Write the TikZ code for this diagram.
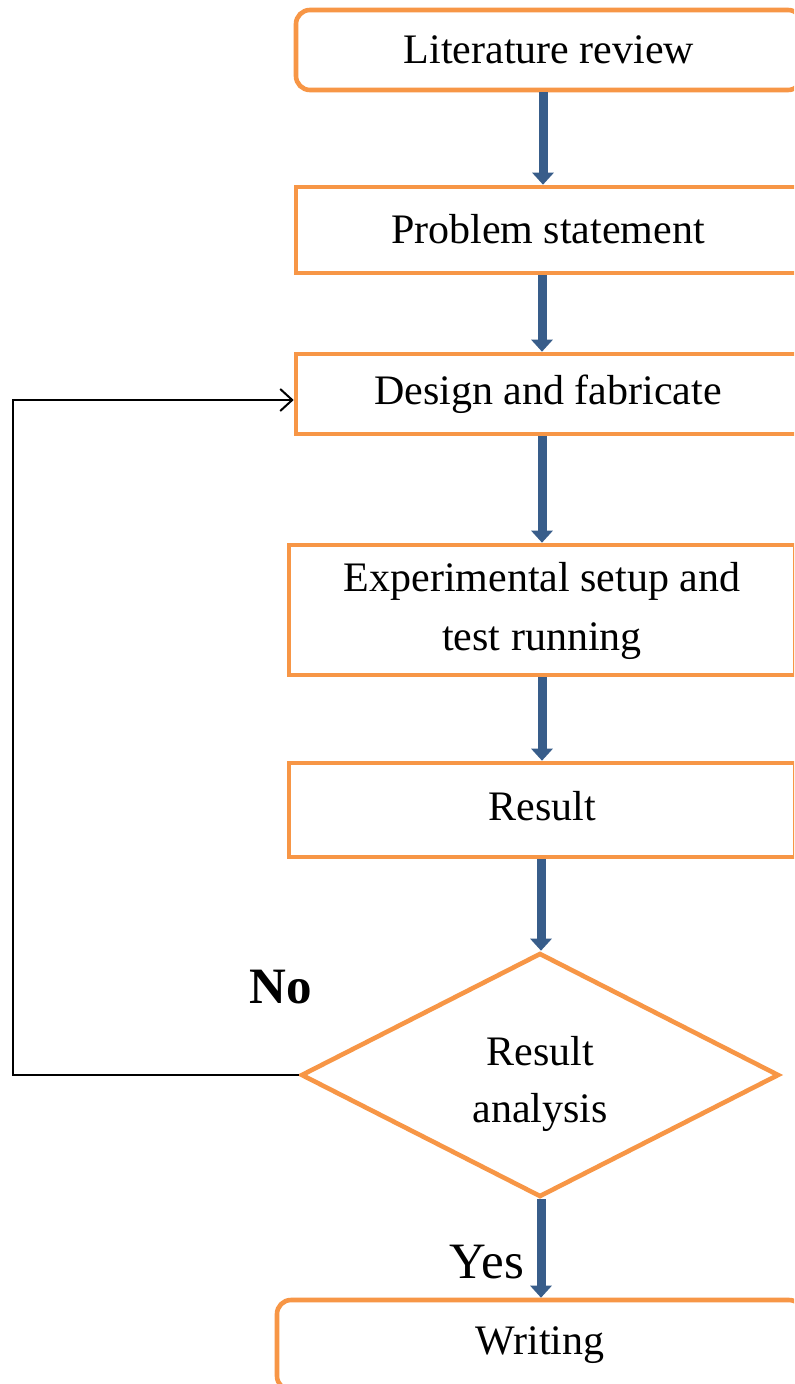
\documentclass[tikz,border=0pt]{standalone}
\usepackage{fontspec}
\setmainfont{Liberation Serif}
\usetikzlibrary{shapes.geometric,arrows.meta}
\definecolor{boxorange}{HTML}{F79646}
\definecolor{arrowblue}{HTML}{385D8A}
\tikzset{
  stepbox/.style={draw=boxorange, line width=2.3pt, fill=white, align=center, inner sep=0pt,
    font=\fontsize{21}{28.5}\selectfont},
  roundbox/.style={stepbox, rounded corners=7pt},
  decision/.style={stepbox, diamond, aspect=1.96},
  boxtext/.style={inner sep=0pt, align=center, font=\fontsize{21}{28.5}\selectfont},
  flow/.style={draw=arrowblue, line width=4.5pt, -{Triangle[width=10.5pt,length=6pt]}, arrowblue},
  feedback/.style={draw=black, line width=1pt, -{Straight Barb[length=6pt,width=11pt,line width=1pt]}},
  lbl/.style={inner sep=0pt, font=\fontsize{25.5}{30}\selectfont}
}
\begin{document}
\begin{tikzpicture}[x=0.5pt, y=-0.5pt]
\clip (0,0) rectangle (794,1384);
\fill[white] (0,0) rectangle (794,1384);

\node[roundbox, minimum width=253pt, minimum height=40pt] (lit) at (549,50) {Literature review};
\node[stepbox, minimum width=252pt, minimum height=43pt] (prob) at (548,230) {\raisebox{1pt}{Problem statement}};
\node[stepbox, minimum width=252pt, minimum height=40pt] (des) at (548,394) {Design and fabricate};
\node[stepbox, minimum width=253pt, minimum height=65pt] (exp) at (542,610) {\raisebox{-2pt}{\begin{tabular}{@{}c@{}}Experimental setup and\\[1pt]test running\end{tabular}}};
\node[stepbox, minimum width=253pt, minimum height=47pt] (res) at (542,810) {\raisebox{4pt}{Result}};
\node[decision, minimum width=239pt, minimum height=122pt] (dia) at (540,1075) {};
\node[boxtext] (diatext) at (540,1084) {Result\\analysis};
\node[roundbox, minimum width=263pt, minimum height=45pt] (wri) at (540,1345) {Writing};

\coordinate (ax1) at (543,0);
\coordinate (ax2) at (542,0);
\coordinate (ax3) at (541,0);
\coordinate (cx) at (13,0);

\draw[flow] (lit.south -| ax1) -- (prob.north -| ax1);
\draw[flow] (prob.south -| ax2) -- (des.north -| ax2);
\draw[flow] (des.south -| ax2) -- (exp.north -| ax2);
\draw[flow] (exp.south -| ax2) -- (res.north -| ax2);
\draw[flow] (res.south -| ax3) -- (dia.north -| ax3);
\draw[flow] (dia.south -| ax3) -- (wri.north -| ax3);

\draw[feedback] (dia.west) -- (dia.west -| cx) |- ([yshift=-3pt]des.west);

\node[lbl, font=\fontsize{25.5}{30}\selectfont\bfseries] (no) at (281,987) {No};
\node[lbl] (yes) at (487,1262) {Yes};
\end{tikzpicture}
\end{document}
